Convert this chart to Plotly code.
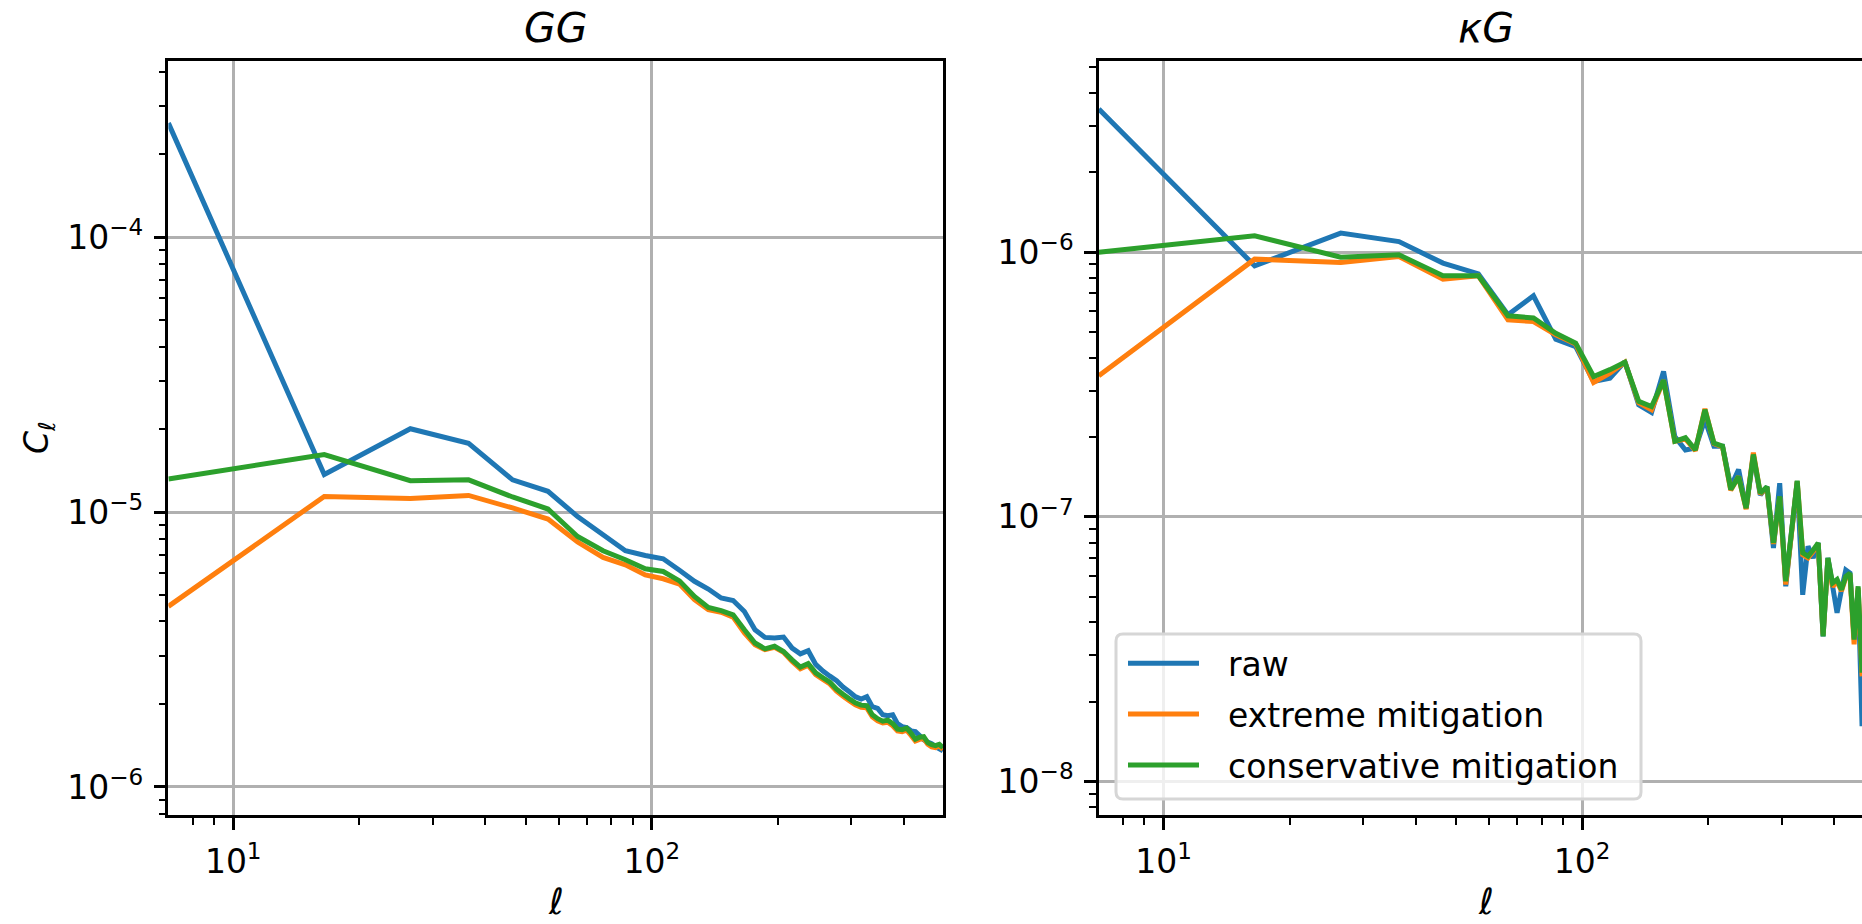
import math
import plotly.graph_objects as go

# ---------------- data ----------------
ELL_GG = [7, 16.5, 26.5, 36.5, 46.5, 56.5, 66.5, 76.5, 86.5, 96.5, 106.5, 116.5, 126.5,
          136.5, 146.5, 156.5, 166.5, 176.5, 186.5, 196.5, 206.5, 216.5, 226.5, 236.5,
          246.5, 256.5, 266.5, 276.5, 286.5, 296.5, 306.5, 316.5, 326.5, 336.5, 346.5,
          356.5, 366.5, 376.5, 386.5, 396.5, 406.5, 416.5, 426.5, 436.5, 446.5, 456.5,
          466.5, 476.5, 486.5, 496.5]

GG_RAW = [2.60e-4, 1.37e-5, 2.01e-5, 1.78e-5, 1.31e-5, 1.19e-5, 9.63e-6, 8.27e-6, 7.23e-6,
          6.95e-6, 6.76e-6, 6.14e-6, 5.60e-6, 5.25e-6, 4.87e-6, 4.77e-6, 4.35e-6, 3.73e-6,
          3.50e-6, 3.48e-6, 3.51e-6, 3.20e-6, 3.05e-6, 3.13e-6, 2.79e-6, 2.64e-6, 2.53e-6,
          2.435e-6, 2.31e-6, 2.22e-6, 2.13e-6, 2.09e-6, 2.13e-6, 1.96e-6, 1.93e-6, 1.83e-6,
          1.816e-6, 1.83e-6, 1.70e-6, 1.657e-6, 1.643e-6, 1.60e-6, 1.59e-6, 1.537e-6,
          1.486e-6, 1.455e-6, 1.437e-6, 1.40e-6, 1.378e-6, 1.355e-6]

GG_EXT = [4.54e-6, 1.14e-5, 1.12e-5, 1.15e-5, 1.035e-5, 9.43e-6, 7.78e-6, 6.84e-6, 6.43e-6,
          5.91e-6, 5.72e-6, 5.47e-6, 4.80e-6, 4.42e-6, 4.32e-6, 4.15e-6, 3.63e-6, 3.29e-6,
          3.16e-6, 3.22e-6, 3.09e-6, 2.86e-6, 2.69e-6, 2.77e-6, 2.56e-6, 2.46e-6, 2.37e-6,
          2.23e-6, 2.14e-6, 2.06e-6, 1.99e-6, 1.95e-6, 1.94e-6, 1.80e-6, 1.74e-6, 1.71e-6,
          1.72e-6, 1.67e-6, 1.60e-6, 1.59e-6, 1.61e-6, 1.54e-6, 1.47e-6, 1.49e-6, 1.50e-6,
          1.43e-6, 1.40e-6, 1.39e-6, 1.41e-6, 1.37e-6]

GG_CON = [1.32e-5, 1.62e-5, 1.30e-5, 1.31e-5, 1.135e-5, 1.026e-5, 8.15e-6, 7.23e-6, 6.71e-6,
          6.22e-6, 6.08e-6, 5.62e-6, 4.93e-6, 4.50e-6, 4.38e-6, 4.23e-6, 3.73e-6, 3.34e-6,
          3.18e-6, 3.25e-6, 3.11e-6, 2.90e-6, 2.73e-6, 2.81e-6, 2.60e-6, 2.496e-6, 2.405e-6,
          2.268e-6, 2.175e-6, 2.094e-6, 2.025e-6, 1.984e-6, 1.975e-6, 1.832e-6, 1.772e-6,
          1.735e-6, 1.75e-6, 1.70e-6, 1.623e-6, 1.616e-6, 1.636e-6, 1.569e-6, 1.492e-6,
          1.517e-6, 1.524e-6, 1.449e-6, 1.425e-6, 1.413e-6, 1.43e-6, 1.39e-6]

ELL_KG = [7, 16.5, 26.5, 36.5, 46.5, 56.5, 66.5, 76.5, 86.5, 96.5, 106.5, 116.5, 126.5,
          136.5, 146.5, 156.5, 166.5, 176.5, 186.5, 196.5, 206.5, 216.5, 226.5, 236.5,
          246.5, 256.5, 266.5, 276.5, 286.5, 296.5, 306.5, 316.5, 326.5, 336.5, 346.5,
          356.5, 366.5, 376.5, 386.5, 396.5, 406.5, 416.5, 426.5, 436.5, 446.5, 456.5, 466.5]

KG_RAW = [3.47e-6, 8.88e-7, 1.18e-6, 1.096e-6, 9.09e-7, 8.28e-7, 5.80e-7, 6.84e-7, 4.69e-7,
          4.40e-7, 3.25e-7, 3.34e-7, 3.86e-7, 2.65e-7, 2.48e-7, 3.54e-7, 2.01e-7, 1.79e-7,
          1.82e-7, 2.33e-7, 1.85e-7, 1.85e-7, 1.30e-7, 1.51e-7, 1.08e-7, 1.70e-7, 1.21e-7,
          1.30e-7, 7.63e-8, 1.34e-7, 5.47e-8, 8.8e-8, 1.36e-7, 5.08e-8, 7.74e-8, 7.0e-8,
          7.97e-8, 3.54e-8, 7.0e-8, 5.5e-8, 4.34e-8, 5.31e-8, 6.3e-8, 6.13e-8, 3.5e-8,
          5.3e-8, 1.62e-8]

KG_EXT = [3.41e-7, 9.41e-7, 9.14e-7, 9.63e-7, 7.91e-7, 8.14e-7, 5.55e-7, 5.47e-7, 4.87e-7,
          4.50e-7, 3.22e-7, 3.49e-7, 3.84e-7, 2.70e-7, 2.54e-7, 3.28e-7, 1.93e-7, 1.97e-7,
          1.78e-7, 2.56e-7, 1.89e-7, 1.84e-7, 1.26e-7, 1.42e-7, 1.07e-7, 1.75e-7, 1.22e-7,
          1.29e-7, 7.9e-8, 1.19e-7, 5.55e-8, 8.7e-8, 1.36e-7, 7.2e-8, 7.0e-8, 7.4e-8,
          7.9e-8, 3.6e-8, 6.9e-8, 5.45e-8, 5.7e-8, 5.25e-8, 5.9e-8, 6.05e-8, 3.3e-8,
          5.4e-8, 2.5e-8]

KG_CON = [1.0e-6, 1.152e-6, 9.57e-7, 9.77e-7, 8.14e-7, 8.14e-7, 5.75e-7, 5.64e-7, 4.94e-7,
          4.53e-7, 3.39e-7, 3.60e-7, 3.84e-7, 2.73e-7, 2.61e-7, 3.28e-7, 1.93e-7, 1.99e-7,
          1.79e-7, 2.54e-7, 1.90e-7, 1.85e-7, 1.27e-7, 1.42e-7, 1.08e-7, 1.72e-7, 1.23e-7,
          1.30e-7, 7.97e-8, 1.195e-7, 5.71e-8, 8.8e-8, 1.37e-7, 7.31e-8, 7.1e-8, 7.5e-8,
          7.97e-8, 3.54e-8, 7.0e-8, 5.63e-8, 5.8e-8, 5.31e-8, 5.96e-8, 6.13e-8, 3.44e-8,
          5.47e-8, 2.58e-8]

SERIES = ["raw", "extreme mitigation", "conservative mitigation"]
COLORS = ["#1f77b4", "#ff7f0e", "#2ca02c"]
TITLES = ["<i>GG</i>", "<i>κG</i>"]

X_TICKS = [10, 100]
X_TICKTEXT = ["10<sup>1</sup>", "10<sup>2</sup>"]
X_MINOR = [8, 9, 20, 30, 40, 50, 60, 70, 80, 90, 200, 300, 400]
Y1_TICKS = [1e-6, 1e-5, 1e-4]
Y1_TICKTEXT = ["10<sup>−6</sup>", "10<sup>−5</sup>", "10<sup>−4</sup>"]
Y2_TICKS = [1e-8, 1e-7, 1e-6]
Y2_TICKTEXT = ["10<sup>−8</sup>", "10<sup>−7</sup>", "10<sup>−6</sup>"]
Y1_MINOR = [8e-7, 9e-7] + [m * 1e-6 for m in range(2, 10)] + [m * 1e-5 for m in range(2, 10)] + [2e-4, 3e-4, 4e-4]
Y2_MINOR = [8e-9, 9e-9] + [m * 1e-8 for m in range(2, 10)] + [m * 1e-7 for m in range(2, 10)] + [2e-6, 3e-6, 4e-6, 5e-6]

# ---------------- layout geometry (pixels) ----------------
W, H = 1862, 924
LX0, LX1 = 168.4, 943.0
RX0 = 1098.8
YT, YB = 61.0, 815.0
XR1 = [math.log10(7), math.log10(496.5)]
DEC = (LX1 - LX0) / (XR1[1] - XR1[0])
XR2 = [XR1[0], XR1[0] + (W - RX0) / DEC]
YR1 = [-6.102, -3.359]
YR2 = [-8.126, -5.278]
FONT = "DejaVu Sans"


def px(xp):
    return xp / W


def py(yp):
    return 1 - yp / H


fig = go.Figure()
for name, color, y in zip(SERIES, COLORS, [GG_RAW, GG_EXT, GG_CON]):
    fig.add_trace(go.Scatter(x=ELL_GG, y=y, mode="lines", name=name,
                             line=dict(color=color, width=5, simplify=False),
                             xaxis="x", yaxis="y", showlegend=False))
for name, color, y in zip(SERIES, COLORS, [KG_RAW, KG_EXT, KG_CON]):
    fig.add_trace(go.Scatter(x=ELL_KG, y=y, mode="lines", name=name,
                             line=dict(color=color, width=5, simplify=False),
                             xaxis="x2", yaxis="y2", showlegend=False))


def axis(tickvals, ticktext, minor_vals, rng, domain, anchor, mirror):
    return dict(type="log", range=rng, domain=domain, anchor=anchor,
                showline=True, linecolor="black", linewidth=2.7, mirror=mirror,
                ticks="outside", ticklen=11.7, tickwidth=2.7, tickcolor="black",
                showgrid=True, gridcolor="#b0b0b0", gridwidth=2.7, zeroline=False,
                automargin=False, tickmode="array", tickvals=tickvals, ticktext=ticktext,
                tickfont=dict(family=FONT, size=33, color="black"),
                ticklabelstandoff=4,
                minor=dict(ticks="outside", ticklen=6.7, tickwidth=2, tickcolor="black",
                           showgrid=False, tickmode="array", tickvals=minor_vals))


fig.update_layout(
    width=W, height=H, autosize=False,
    margin=dict(l=0, r=0, t=0, b=0, pad=0),
    paper_bgcolor="white", plot_bgcolor="white",
    font=dict(family=FONT, size=33, color="black"),
    showlegend=False,
    xaxis=axis(X_TICKS, X_TICKTEXT, X_MINOR, XR1, [px(LX0), px(LX1)], "y", True),
    yaxis=axis(Y1_TICKS, Y1_TICKTEXT, Y1_MINOR, YR1, [py(YB), py(YT)], "x", True),
    xaxis2=axis(X_TICKS, X_TICKTEXT, X_MINOR, XR2, [px(RX0), 1.0], "y2", True),
    yaxis2=axis(Y2_TICKS, Y2_TICKTEXT, Y2_MINOR, YR2, [py(YB), py(YT)], "x2", False),
)

ann = []
# titles
ann.append(dict(text=TITLES[0], x=px((LX0 + LX1) / 2), y=py(27.5), xref="paper", yref="paper",
                showarrow=False, xanchor="center", yanchor="middle",
                font=dict(family=FONT, size=41, color="black")))
ann.append(dict(text=TITLES[1], x=px(RX0 + (LX1 - LX0) / 2), y=py(27.5), xref="paper", yref="paper",
                showarrow=False, xanchor="center", yanchor="middle",
                font=dict(family=FONT, size=41, color="black")))
# axis labels
for cx in [(LX0 + LX1) / 2, RX0 + (LX1 - LX0) / 2]:
    ann.append(dict(text="<i>ℓ</i>", x=px(cx), y=0, xref="paper", yref="paper",
                    showarrow=False, xanchor="center", yanchor="bottom",
                    font=dict(family=FONT, size=36, color="black")))
ann.append(dict(text="<i>C</i><sub>ℓ</sub>", x=px(38), y=py((YT + YB) / 2), xref="paper", yref="paper",
                showarrow=False, xanchor="center", yanchor="middle", textangle=-90,
                font=dict(family=FONT, size=33, color="black")))

# legend (drawn manually to match matplotlib legend box)
LG_X0, LG_X1, LG_Y0, LG_Y1 = 1116, 1641, 634, 799
R = 7
path = (f"M {px(LG_X0 + R)},{py(LG_Y0)} L {px(LG_X1 - R)},{py(LG_Y0)} "
        f"Q {px(LG_X1)},{py(LG_Y0)} {px(LG_X1)},{py(LG_Y0 + R)} "
        f"L {px(LG_X1)},{py(LG_Y1 - R)} Q {px(LG_X1)},{py(LG_Y1)} {px(LG_X1 - R)},{py(LG_Y1)} "
        f"L {px(LG_X0 + R)},{py(LG_Y1)} Q {px(LG_X0)},{py(LG_Y1)} {px(LG_X0)},{py(LG_Y1 - R)} "
        f"L {px(LG_X0)},{py(LG_Y0 + R)} Q {px(LG_X0)},{py(LG_Y0)} {px(LG_X0 + R)},{py(LG_Y0)} Z")
shapes = [dict(type="path", path=path, xref="paper", yref="paper", layer="above",
               fillcolor="rgba(255,255,255,0.8)", line=dict(color="#d6d6d6", width=3))]
rows = [663.3, 714, 765]
for name, color, ry in zip(SERIES, COLORS, rows):
    shapes.append(dict(type="line", xref="paper", yref="paper", layer="above",
                       x0=px(1128), x1=px(1199), y0=py(ry), y1=py(ry),
                       line=dict(color=color, width=5)))
    ann.append(dict(text=name, x=px(1226), y=py(ry + 1), xref="paper", yref="paper",
                    showarrow=False, xanchor="left", yanchor="middle",
                    font=dict(family=FONT, size=33, color="black")))

fig.update_layout(annotations=ann, shapes=shapes)
fig.write_html("out.html")
